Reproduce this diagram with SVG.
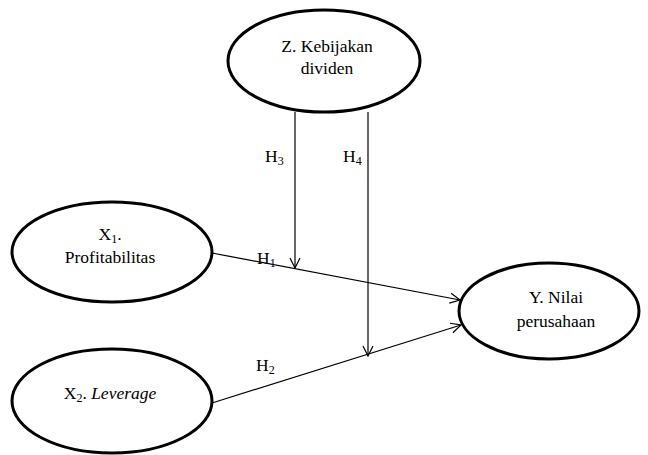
<svg xmlns="http://www.w3.org/2000/svg" width="648" height="455" viewBox="0 0 648 455">
<style>
.node ellipse{fill:#fff;stroke:#000;stroke-width:3}
text{font-family:'Liberation Serif','Times New Roman',Tinos,'DejaVu Serif',serif;font-size:17.5px;fill:#000;text-anchor:middle}
.lbl{text-anchor:start}
.sub{font-size:12px}
.conn line{stroke:#000;stroke-width:1.2;fill:none}
</style>
<defs>
<marker id="arr" viewBox="0 0 12 12" refX="11" refY="6" markerWidth="12" markerHeight="12" markerUnits="userSpaceOnUse" orient="auto">
<polyline points="1,1 11,6 1,11" fill="none" stroke="#000" stroke-width="1.2"/>
</marker>
</defs>
<rect width="648" height="455" fill="#fff"/>
<g id="connectors" class="conn">
<line x1="212" y1="253" x2="460" y2="300" marker-end="url(#arr)"/>
<line x1="212" y1="403" x2="461" y2="325" marker-end="url(#arr)"/>
<line x1="295" y1="112" x2="295" y2="268" marker-end="url(#arr)"/>
<line x1="368" y1="112" x2="368" y2="356" marker-end="url(#arr)"/>
</g>
<g id="node-z" class="node">
<ellipse cx="324" cy="61" rx="96" ry="51"/>
<text x="327" y="52">Z. Kebijakan</text>
<text x="327" y="74">dividen</text>
</g>
<g id="node-x1" class="node">
<ellipse cx="112" cy="252" rx="100" ry="50"/>
<text x="110" y="240">X<tspan class="sub" dy="3">1</tspan><tspan dy="-3">.</tspan></text>
<text x="110" y="263">Profitabilitas</text>
</g>
<g id="node-x2" class="node">
<ellipse cx="112" cy="401" rx="100" ry="52"/>
<text x="110" y="399">X<tspan class="sub" dy="3">2</tspan><tspan dy="-3">. </tspan><tspan font-style="italic">Leverage</tspan></text>
</g>
<g id="node-y" class="node">
<ellipse cx="549" cy="311" rx="90" ry="48"/>
<text x="556" y="303">Y. Nilai</text>
<text x="556" y="327">perusahaan</text>
</g>
<g id="labels">
<text class="lbl" x="265" y="162">H<tspan class="sub" dy="3">3</tspan></text>
<text class="lbl" x="343" y="162">H<tspan class="sub" dy="3">4</tspan></text>
<text class="lbl" x="257" y="264">H<tspan class="sub" dy="3">1</tspan></text>
<text class="lbl" x="256" y="371">H<tspan class="sub" dy="3">2</tspan></text>
</g>
</svg>
